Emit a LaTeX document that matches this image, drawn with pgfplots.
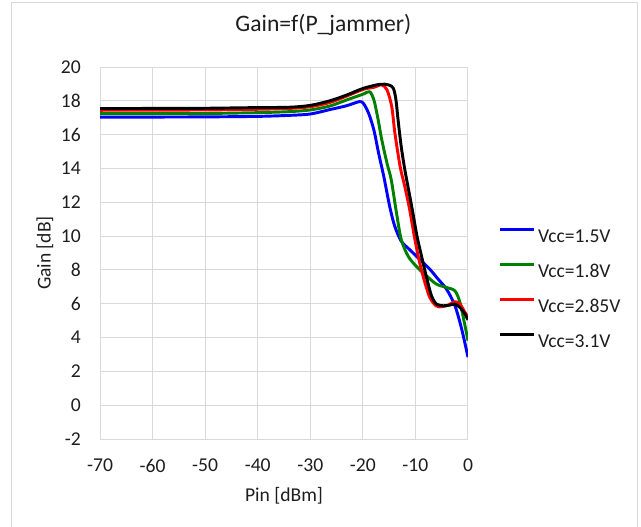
\documentclass[border=0pt]{standalone}
\usepackage{fontspec}
\setmainfont{Carlito}
\usepackage{pgfplots}
\pgfplotsset{compat=1.18}

\definecolor{gridgray}{HTML}{D9D9D9}
\definecolor{txt}{HTML}{1E1E1E}

\begin{document}
\begin{tikzpicture}
\path[use as bounding box] (0,0) rectangle (480.75pt,394.5pt);
% chart area border (open at the bottom, as in the screenshot)
\draw[gridgray, line width=0.75pt] (8.6pt,-2pt) -- (8.6pt,392.25pt) -- (477.75pt,392.25pt) -- (477.75pt,-2pt);

\begin{axis}[
  at={(75pt,65.25pt)}, anchor=south west,
  scale only axis, width=276pt, height=279pt,
  xmin=-70, xmax=0, ymin=-2, ymax=20,
  xtick={-70,-60,...,0},
  ytick={-2,0,...,20},
  xticklabels={-70,-60,-50,-40,-30,-20,-10,0},
  yticklabels={-2,0,2,4,6,8,10,12,14,16,18,20},
  major tick length=0pt,
  grid=major,
  grid style={gridgray, line width=0.75pt},
  axis line style={gridgray, line width=0.75pt},
  xticklabel style={anchor=north, inner sep=0pt, yshift=-15pt, text=txt, font=\fontsize{14.7}{17}\selectfont},
  yticklabel style={anchor=east, inner sep=0pt, xshift=-14.25pt, text=txt, font=\fontsize{14.7}{17}\selectfont},
  title={Gain=f(P\_jammer)},
  title style={at={(axis description cs:0.607,1.091)}, anchor=center, text=txt, font=\fontsize{17.7}{21}\selectfont},
  xlabel={Pin [dBm]},
  xlabel style={at={(axis description cs:0.5,-0.1532)}, anchor=center, text=txt, font=\fontsize{14.7}{17}\selectfont},
  ylabel={Gain [dB]},
  ylabel style={at={(axis description cs:-0.1495,0.5)}, anchor=center, text=txt, font=\fontsize{14.7}{17}\selectfont},
  legend style={draw=none, fill=none, inner sep=0pt, at={(1.0815,0.568)}, anchor=north west,
    row sep=15.5pt, column sep=2.25pt, text=txt, font=\fontsize{14.7}{17}\selectfont,
    nodes={inner sep=0pt, text height=10pt, text depth=0pt}, cells={anchor=west}},
  legend image code/.code={\draw[#1] (0pt,4.6pt) -- (25.5pt,4.6pt);},
  every axis plot/.append style={line width=2.2pt, line join=round, smooth},
]
\addplot[color=blue] coordinates {
(-70,17.04) (-60,17.04) (-50,17.05) (-40,17.08) (-34,17.14) (-30,17.22)
(-26.3,17.48) (-23.1,17.71) (-20.7,17.95) (-19.9,17.85) (-18.9,17.26)
(-17.9,16.27) (-17.0,14.9) (-16.0,13.5) (-14.9,11.76) (-13.95,10.6)
(-12.7,9.7) (-11.1,9.2) (-9.2,8.63) (-7.26,8.04) (-5.67,7.45) (-4.08,6.86)
(-2.48,5.88) (-1.2,4.5) (0,2.84)};
\addlegendentry{Vcc=1.5V}
\addplot[color={rgb,255:red,0;green,128;blue,0}] coordinates {
(-70,17.24) (-60,17.24) (-50,17.25) (-40,17.3) (-34,17.36) (-30,17.46)
(-26.3,17.69) (-23.1,18.05) (-19.9,18.4) (-18.7,18.54) (-17.9,18.05)
(-17.2,17.06) (-16.4,15.7) (-15.4,14.3) (-14.6,13.33) (-13.6,11.37)
(-12.7,9.8) (-11.4,8.82) (-9.8,8.2) (-7.9,7.65) (-6.0,7.16) (-4.08,6.96)
(-2.48,6.76) (-1.53,6.08) (-0.57,4.7) (0,3.82)};
\addlegendentry{Vcc=1.8V}
\addplot[color=red] coordinates {
(-70,17.44) (-60,17.45) (-50,17.46) (-40,17.5) (-34,17.55) (-30,17.65)
(-26.3,17.9) (-23.1,18.28) (-19.9,18.68) (-17.9,18.8) (-16.4,18.94)
(-15.4,18.64) (-14.5,17.65) (-13.9,16.08) (-12.9,14.1) (-12.0,12.9)
(-11.1,11.57) (-10.1,9.8) (-9.2,8.43) (-8.2,7.25) (-7.26,6.37) (-6.1,5.88)
(-5.03,5.82) (-3.76,5.92) (-2.48,6.12) (-1.53,5.98) (-0.57,5.49) (0,5.2)};
\addlegendentry{Vcc=2.85V}
\addplot[color=black] coordinates {
(-70,17.54) (-60,17.55) (-50,17.56) (-40,17.6) (-34,17.62) (-30,17.73)
(-26.3,18.0) (-23.1,18.34) (-19.9,18.74) (-16.7,18.98) (-15.1,18.94)
(-14.2,18.74) (-13.7,18.05) (-13.3,16.87) (-12.7,15.29) (-12.0,13.9)
(-11.4,12.9) (-10.6,11.57) (-9.7,10.0) (-8.7,8.63) (-7.8,7.45) (-6.94,6.47)
(-6.0,5.98) (-4.7,5.88) (-3.44,5.92) (-2.48,5.98) (-1.53,5.78) (-0.57,5.39)
(0,5.04)};
\addlegendentry{Vcc=3.1V}
\end{axis}
\end{tikzpicture}
\end{document}
